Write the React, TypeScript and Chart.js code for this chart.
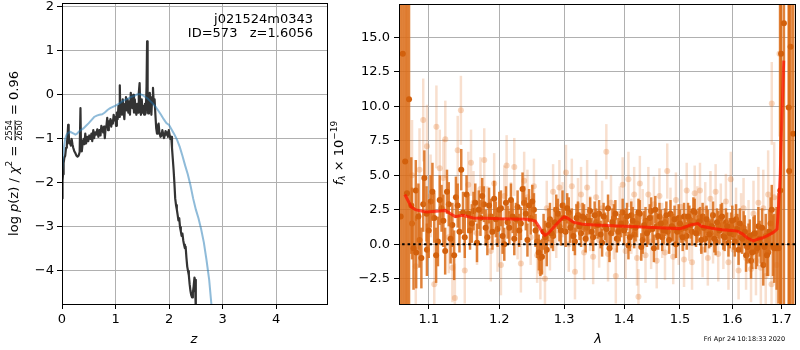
import React, { useEffect, useRef } from 'react';
import { Chart, registerables } from 'chart.js';
Chart.register(...registerables);

// ---------- Left panel data ----------
const zLogp = [0.000,0.010,0.020,0.030,0.045,0.060,0.075,0.090,0.105,0.115,0.125,0.135,0.150,0.165,0.180,0.195,0.210,0.230,0.250,0.270,0.290,0.310,0.330,0.345,0.355,0.370,0.390,0.405,0.420,0.435,0.450,0.470,0.490,0.510,0.530,0.550,0.565,0.585,0.600,0.620,0.640,0.660,0.680,0.700,0.720,0.735,0.750,0.770,0.785,0.800,0.815,0.830,0.845,0.860,0.875,0.890,0.905,0.920,0.935,0.950,0.965,0.980,0.995,1.010,1.025,1.040,1.055,1.065,1.080,1.090,1.105,1.120,1.135,1.150,1.165,1.180,1.195,1.210,1.225,1.240,1.255,1.270,1.285,1.300,1.315,1.330,1.345,1.360,1.375,1.390,1.405,1.420,1.435,1.450,1.462,1.475,1.490,1.505,1.520,1.535,1.550,1.565,1.580,1.590,1.600,1.610,1.625,1.640,1.655,1.670,1.685,1.700,1.715,1.730,1.745,1.760,1.775,1.790,1.805,1.820,1.840,1.860,1.875,1.890,1.905,1.920,1.935,1.950,1.965,1.980,1.995,2.010,2.025,2.040,2.055,2.070,2.085,2.100,2.115,2.130,2.145,2.160,2.175,2.190,2.205,2.220,2.235,2.250,2.265,2.280,2.295,2.310,2.325,2.340,2.355,2.370,2.385,2.400,2.415,2.430,2.445,2.460,2.475,2.485,2.500,2.520];
const logpVals = [-2.35,-1.95,-1.80,-1.55,-1.42,-1.38,-1.20,-1.15,-0.90,-0.68,-0.85,-1.10,-1.05,-1.15,-1.00,-1.12,-1.20,-1.28,-1.32,-1.38,-1.40,-1.38,-1.30,-0.30,-1.20,-1.28,-1.05,-1.00,-1.12,-0.88,-1.10,-0.95,-1.05,-0.92,-1.00,-0.88,-1.05,-0.80,-0.98,-0.85,-0.90,-0.78,-0.95,-0.80,-0.92,-0.70,-0.75,-0.85,-0.72,-0.98,-0.75,-0.70,-0.52,-0.80,-0.60,-0.68,-0.55,-0.72,-0.58,-0.65,-0.45,-0.58,-0.50,-0.70,-0.40,-0.55,-0.25,-0.50,0.22,-0.40,-0.18,-0.45,-0.10,-0.35,-0.55,-0.20,-0.05,-0.35,-0.10,-0.40,-0.15,-0.45,0.05,-0.20,-0.30,0.00,-0.40,-0.10,-0.35,-0.45,-0.20,-0.40,0.05,0.27,-0.30,-0.45,-0.10,-0.40,-0.25,-0.45,-0.20,-0.42,0.20,1.22,-0.10,-0.42,-0.20,0.05,-0.15,-0.45,-0.05,0.16,-0.20,-0.10,-0.45,-0.75,-0.88,-0.70,-0.65,-0.85,-0.95,-0.92,-0.80,-0.88,-0.98,-0.92,-0.82,-0.90,-0.85,-0.95,-0.80,-0.90,-1.00,-0.95,-1.20,-1.45,-1.70,-2.00,-2.35,-2.50,-2.60,-2.72,-2.85,-2.80,-3.00,-3.10,-3.20,-3.15,-3.30,-3.40,-3.48,-3.45,-3.70,-3.90,-4.00,-4.10,-4.30,-4.45,-4.55,-4.60,-4.50,-4.35,-4.15,-4.20,-4.90,-5.40];

const zPrior = [0.000,0.020,0.040,0.060,0.080,0.100,0.130,0.160,0.190,0.220,0.250,0.280,0.310,0.350,0.400,0.450,0.500,0.550,0.600,0.650,0.700,0.750,0.800,0.850,0.900,0.950,1.000,1.050,1.100,1.150,1.200,1.250,1.300,1.350,1.400,1.450,1.500,1.550,1.600,1.650,1.700,1.750,1.800,1.850,1.900,1.950,2.000,2.050,2.100,2.150,2.200,2.250,2.300,2.350,2.400,2.450,2.500,2.550,2.600,2.650,2.700,2.750,2.790,2.830];
const priorVals = [-1.75,-1.40,-1.15,-1.00,-0.92,-0.88,-0.85,-0.84,-0.86,-0.88,-0.90,-0.88,-0.84,-0.80,-0.76,-0.70,-0.64,-0.57,-0.50,-0.47,-0.45,-0.44,-0.40,-0.34,-0.30,-0.27,-0.24,-0.21,-0.17,-0.13,-0.10,-0.07,-0.04,-0.02,0.01,0.02,0.00,-0.04,-0.08,-0.14,-0.20,-0.27,-0.36,-0.45,-0.55,-0.64,-0.68,-0.79,-0.90,-1.02,-1.18,-1.38,-1.60,-1.80,-2.05,-2.35,-2.60,-2.80,-3.05,-3.35,-3.75,-4.20,-4.74,-5.30];

const zTicks = [0, 1, 2, 3, 4];
const logpTicks = [-4, -3, -2, -1, 0, 1, 2];

// ---------- Right panel data ----------
const darkLam = [1.0625,1.0653,1.0684,1.0708,1.0735,1.0765,1.0795,1.0830,1.0860,1.0900,1.0940,1.0970,1.1000,1.1050,1.1100,1.1150,1.1200,1.1250,1.1300,1.1350,1.1400,1.1450,1.1500,1.1550,1.1600,1.1650,1.1700,1.1750,1.1800,1.1850,1.1900,1.1950,1.2000,1.2050,1.2100,1.2150,1.2200,1.2250,1.2300,1.2350,1.2400,1.2450,1.2500,1.2550,1.2600,1.2650,1.2700,1.2750,1.2800,1.2850,1.2900,1.2950,1.3000,1.3050,1.3100,1.3150,1.3200,1.3250,1.3300,1.3350,1.3400,1.3450,1.3500,1.3550,1.3600,1.3650,1.3700,1.3750,1.3800,1.3850,1.3900,1.3950,1.4000,1.4050,1.4100,1.4150,1.4200,1.4250,1.4300,1.4350,1.4400,1.4450,1.4500,1.4550,1.4600,1.4650,1.4700,1.4750,1.4800,1.4850,1.4900,1.4950,1.5000,1.5050,1.5100,1.5150,1.5200,1.5250,1.5300,1.5350,1.5400,1.5450,1.5500,1.5550,1.5600,1.5650,1.5700,1.5750,1.5800,1.5850,1.5900,1.5950,1.6000,1.6050,1.6100,1.6150,1.6200,1.6250,1.6300,1.6350,1.6400,1.6450,1.6500,1.6550,1.6600,1.6650,1.6700,1.6750,1.6800,1.6850,1.6900,1.6940,1.6977,1.6995,1.7054,1.7155,1.7165,1.7195,1.7250];
const darkFlux = [2.0,13.8,6.0,3.7,10.5,2.8,-0.3,-0.6,2.0,-1.0,4.8,2.2,1.0,3.8,-0.8,3.2,1.7,3.8,0.4,-0.8,2.8,5.4,0.5,2.2,1.5,3.0,2.5,3.5,1.2,2.8,0.9,1.8,2.5,0.6,3.0,1.2,2.0,1.8,1.0,4.0,2.2,2.8,3.1,1.0,-0.6,-0.9,0.5,1.4,0.8,1.6,2.2,1.0,1.9,2.6,1.2,0.6,1.9,1.3,2.0,0.4,1.7,0.9,2.1,1.4,0.7,2.0,1.1,-0.3,1.6,2.2,0.9,1.5,1.0,2.0,0.5,1.7,1.2,2.3,-0.2,1.4,0.8,1.9,1.1,2.5,0.6,1.5,1.0,2.1,0.3,1.3,1.8,0.9,1.5,0.5,1.2,2.0,1.4,2.4,0.8,1.6,0.3,1.2,1.8,0.7,1.3,0.4,1.6,1.0,2.0,0.5,1.3,0.8,1.7,0.2,1.1,1.5,0.4,0.9,-0.2,0.6,-0.6,0.8,-0.3,0.4,1.2,-0.2,-0.8,0.9,2.5,-0.3,-0.3,-0.3,3.9,13.8,16.0,9.9,5.3,14.3,8.0];
const darkErr = [20,20,20,16,16,3.5,3.0,2.6,2.4,2.2,2.0,2.0,2.0,2.1,2.0,1.8,1.9,1.6,1.8,1.8,1.6,1.5,1.5,1.4,1.4,1.4,1.4,1.3,1.3,1.3,1.3,1.3,1.3,1.3,1.2,1.2,1.2,1.2,1.2,1.2,1.2,1.2,1.2,1.2,1.3,1.3,1.2,1.2,1.1,1.1,1.1,1.1,1.1,1.1,1.1,1.1,1.0,1.0,1.0,1.0,1.0,1.0,1.0,1.0,1.0,1.0,1.0,1.0,1.0,1.0,1.0,1.0,1.0,1.0,1.0,1.0,1.0,1.0,1.0,1.0,1.0,1.0,1.0,1.0,1.0,1.0,1.0,1.0,1.0,1.0,1.0,1.0,1.0,1.0,1.0,1.0,1.0,1.0,1.0,1.0,1.0,1.0,1.0,1.0,1.0,1.0,1.0,1.0,1.0,1.0,1.0,1.1,1.1,1.1,1.1,1.1,1.1,1.2,1.2,1.2,1.2,1.3,1.3,1.3,1.4,1.4,1.5,1.6,1.8,2.5,3.0,4.0,22,25,25,25,25,25,25];

const dark2Lam = [
  1.0775,1.0825,1.0875,1.0925,1.0975,1.1025,1.1075,1.1125,1.1175,1.1225,
  1.1275,1.1325,1.1375,1.1425,1.1475,1.1525,1.1575,1.1625,1.1675,1.1725,
  1.1775,1.1825,1.1875,1.1925,1.1975,1.2025,1.2075,1.2125,1.2175,1.2225,
  1.2275,1.2325,1.2375,1.2425,1.2475,1.2525,1.2575,1.2625,1.2675,1.2725,
  1.2775,1.2825,1.2875,1.2925,1.2975,1.3025,1.3075,1.3125,1.3175,1.3225,
  1.3275,1.3325,1.3375,1.3425,1.3475,1.3525,1.3575,1.3625,1.3675,1.3725,
  1.3775,1.3825,1.3875,1.3925,1.3975,1.4025,1.4075,1.4125,1.4175,1.4225,
  1.4275,1.4325,1.4375,1.4425,1.4475,1.4525,1.4575,1.4625,1.4675,1.4725,
  1.4775,1.4825,1.4875,1.4925,1.4975,1.5025,1.5075,1.5125,1.5175,1.5225,
  1.5275,1.5325,1.5375,1.5425,1.5475,1.5525,1.5575,1.5625,1.5675,1.5725,
  1.5775,1.5825,1.5875,1.5925,1.5975,1.6025,1.6075,1.6125,1.6175,1.6225,
  1.6275,1.6325,1.6375,1.6425,1.6475,1.6525,1.6575,1.6625,1.6675,1.6725,
  1.6775,1.6825];
const dark2Flux = [
  1.5,3.9,0.3,2.9,-0.4,3.1,1.9,0.2,2.6,-0.5,
  2.9,1.4,3.4,0.9,2.3,3.6,1.0,2.4,0.1,1.9,
  2.9,0.5,2.0,3.3,1.1,2.6,0.0,1.6,3.2,0.4,
  2.7,1.5,3.0,0.3,1.9,2.5,0.2,-1.0,0.9,-0.4,
  1.8,0.6,2.5,1.3,2.8,0.9,2.3,1.5,0.2,2.1,
  0.8,1.9,1.2,2.4,0.5,1.6,2.2,0.1,1.3,2.6,
  0.8,1.9,0.4,1.2,2.3,1.6,-0.1,2.1,0.7,1.5,
  2.2,0.3,1.7,1.0,2.4,-0.3,1.3,2.0,0.5,1.6,
  0.9,2.2,1.2,0.0,1.9,1.1,2.0,0.6,1.8,0.9,
  2.3,1.1,1.7,2.0,0.4,1.5,0.8,2.1,0.2,1.4,
  1.9,0.6,1.6,0.1,1.3,0.7,1.8,-0.4,0.5,1.2,
  -0.8,0.3,-1.2,0.7,-0.5,1.3,0.0,-1.5,0.6,-0.6,
  1.5,-0.1];
const dark2Err = [
  2.6,2.2,2.0,2.0,1.9,1.9,1.8,1.8,1.7,1.7,
  1.6,1.6,1.5,1.5,1.5,1.4,1.4,1.4,1.4,1.3,
  1.3,1.3,1.3,1.3,1.3,1.3,1.2,1.2,1.2,1.2,
  1.2,1.2,1.2,1.2,1.2,1.2,1.2,1.3,1.3,1.2,
  1.2,1.1,1.1,1.1,1.1,1.1,1.1,1.1,1.0,1.0,
  1.0,1.0,1.0,1.0,1.0,1.0,1.0,1.0,1.0,1.0,
  1.0,1.0,1.0,1.0,1.0,1.0,1.0,1.0,1.0,1.0,
  1.0,1.0,1.0,1.0,1.0,1.0,1.0,1.0,1.0,1.0,
  1.0,1.0,1.0,1.0,1.0,1.0,1.0,1.0,1.0,1.0,
  1.0,1.0,1.0,1.0,1.0,1.0,1.0,1.0,1.0,1.0,
  1.0,1.0,1.0,1.0,1.0,1.1,1.1,1.1,1.1,1.2,
  1.2,1.2,1.3,1.3,1.3,1.4,1.4,1.5,1.6,1.7,
  1.9,2.2];

const lightLam = [1.0775,1.0825,1.0875,1.0925,1.0975,1.1025,1.1075,1.1104,1.1150,1.1200,1.1227,1.1275,1.1325,1.1360,1.1400,1.1445,1.1500,1.1550,1.1589,1.1625,1.1675,1.1725,1.1780,1.1825,1.1875,1.1925,1.1975,1.2025,1.2075,1.2110,1.2175,1.2225,1.2275,1.2325,1.2375,1.2425,1.2475,1.2525,1.2575,1.2625,1.2697,1.2725,1.2775,1.2825,1.2875,1.2925,1.2975,1.3030,1.3075,1.3125,1.3176,1.3225,1.3275,1.3325,1.3375,1.3425,1.3475,1.3525,1.3575,1.3625,1.3696,1.3725,1.3775,1.3825,1.3857,1.3925,1.3975,1.4025,1.4075,1.4125,1.4175,1.4225,1.4250,1.4275,1.4325,1.4375,1.4425,1.4475,1.4525,1.4575,1.4625,1.4675,1.4725,1.4766,1.4825,1.4875,1.4925,1.4975,1.5025,1.5075,1.5125,1.5175,1.5225,1.5275,1.5325,1.5375,1.5425,1.5475,1.5525,1.5575,1.5625,1.5675,1.5725,1.5775,1.5825,1.5875,1.5925,1.5970,1.6025,1.6075,1.6125,1.6175,1.6225,1.6275,1.6325,1.6375,1.6425,1.6475,1.6525,1.6575,1.6625,1.6675,1.6725,1.6795,1.6800,1.6850,1.6900,1.6960];
const lightFlux = [5.0,-1.6,5.4,9.0,7.1,3.5,-2.9,8.5,5.5,4.8,7.6,0.5,-1.7,-3.9,6.8,9.7,-1.9,4.3,5.9,3.0,0.8,4.0,6.1,2.0,-0.5,4.4,0.2,-1.5,3.5,5.7,2.4,5.6,1.0,-1.4,4.6,3.4,0.5,4.2,-0.8,-2.0,-2.5,2.6,0.1,3.8,1.0,4.1,2.5,5.2,0.0,4.2,-2.0,2.8,3.6,-0.6,4.1,1.5,-0.9,3.4,0.3,2.6,6.7,-0.7,3.0,0.9,-2.3,2.2,4.3,-0.5,4.7,1.3,3.6,-1.0,-3.8,4.4,2.0,-0.8,3.6,0.2,2.9,-1.2,3.5,1.0,-0.6,5.3,2.1,-0.9,3.2,0.5,2.7,-1.1,3.9,0.8,-1.3,3.7,2.2,3.9,-0.4,2.5,-1.0,3.3,0.6,3.8,-0.7,2.4,0.2,3.1,-1.3,4.7,-0.4,2.0,-1.9,1.5,2.6,-1.0,0.9,-1.8,2.2,-1.2,3.0,-1.7,2.6,-2.3,3.6,-2.9,10.2,3.4,-1.5,13.8];
const lightErr = [4.0,3.5,3.0,3.0,3.0,3.0,3.0,3.0,2.8,2.8,2.8,2.6,2.5,2.5,2.5,2.5,2.4,2.4,2.4,2.3,2.3,2.3,2.3,2.2,2.2,2.2,2.2,2.2,2.2,2.2,2.1,2.1,2.1,2.1,2.1,2.0,2.0,2.0,2.0,2.0,2.0,2.0,2.0,2.0,2.0,2.0,2.0,2.0,2.0,2.0,2.0,2.0,2.0,2.0,2.0,2.0,2.0,2.0,2.0,2.0,2.0,2.0,2.0,2.0,2.0,2.0,2.0,2.0,2.0,2.0,2.0,2.0,2.0,2.0,2.0,2.0,2.0,2.0,2.0,2.0,2.0,2.0,2.0,2.0,2.0,2.0,2.0,2.0,2.0,2.0,2.0,2.0,2.0,2.0,2.0,2.0,2.0,2.0,2.0,2.0,2.0,2.0,2.0,2.0,2.0,2.0,2.0,2.0,2.1,2.1,2.1,2.2,2.2,2.3,2.3,2.4,2.4,2.5,2.6,2.7,2.8,3.0,3.2,3.5,3.0,4.0,5.0,6.0];

const modelLam = [1.068,1.0765,1.082,1.090,1.097,1.1144,1.1227,1.1300,1.1365,1.1466,1.1622,1.180,1.200,1.220,1.2428,1.2545,1.260,1.2650,1.2697,1.275,1.285,1.295,1.300,1.305,1.315,1.330,1.350,1.400,1.450,1.500,1.510,1.520,1.5334,1.540,1.560,1.580,1.600,1.610,1.620,1.630,1.6422,1.650,1.660,1.670,1.678,1.685,1.691,1.694,1.6977,1.700,1.705];
const modelFlux = [3.6,2.7,2.5,2.4,2.33,2.4,2.45,2.2,2.0,2.1,1.9,1.88,1.85,1.82,1.8,1.67,1.3,0.9,0.65,0.8,1.3,1.8,1.97,1.9,1.6,1.45,1.4,1.3,1.22,1.13,1.25,1.4,1.5,1.3,1.15,1.05,1.0,0.95,0.75,0.45,0.24,0.35,0.45,0.6,0.75,0.9,1.1,2.7,5.1,8.0,13.3];

const lamTicks = [1.1, 1.2, 1.3, 1.4, 1.5, 1.6, 1.7];
const fluxTicks = [-2.5, 0, 2.5, 5, 7.5, 10, 12.5, 15];

const FONT = 'DejaVu Sans';
const GRID = '#b0b0b0';
const fmtMinus = (s: string) => s.replace('-', '\u2212');

type Seg = { t: string; font: string; dy?: number; frac?: [string, string] };

function drawSegs(ctx: CanvasRenderingContext2D, segs: Seg[], cx: number, cy: number, rotate: boolean) {
  ctx.save();
  ctx.translate(cx, cy);
  if (rotate) ctx.rotate(-Math.PI / 2);
  ctx.textBaseline = 'middle';
  ctx.fillStyle = '#000';
  const widths = segs.map((s) => {
    ctx.font = s.font;
    if (s.frac) return Math.max(ctx.measureText(s.frac[0]).width, ctx.measureText(s.frac[1]).width) + 2;
    return ctx.measureText(s.t).width;
  });
  const total = widths.reduce((a, b) => a + b, 0);
  let x = -total / 2;
  segs.forEach((s, i) => {
    ctx.font = s.font;
    if (s.frac) {
      const w = widths[i];
      ctx.textAlign = 'center';
      ctx.fillText(s.frac[0], x + w / 2, -5);
      ctx.fillText(s.frac[1], x + w / 2, 5);
      ctx.fillRect(x + 1, -0.4, w - 2, 0.8);
    } else {
      ctx.textAlign = 'left';
      ctx.fillText(s.t, x, s.dy ?? 0);
    }
    x += widths[i];
  });
  ctx.restore();
}

const framePlugin = {
  id: 'frame',
  afterDatasetsDraw(chart: any) {
    const { ctx, chartArea: a } = chart;
    ctx.save();
    ctx.strokeStyle = '#000';
    ctx.lineWidth = 1;
    ctx.strokeRect(Math.round(a.left) + 0.5, Math.round(a.top) + 0.5, Math.round(a.right) - Math.round(a.left) - 1, Math.round(a.bottom) - Math.round(a.top));
    ctx.restore();
  },
};

const errorBarPlugin = {
  id: 'errbars',
  beforeDatasetDraw(chart: any, args: any) {
    const ds = chart.data.datasets[args.index];
    if (!ds.errors) return;
    const { ctx, chartArea: a, scales } = chart;
    ctx.save();
    ctx.beginPath();
    ctx.rect(a.left, a.top, a.right - a.left, a.bottom - a.top);
    ctx.clip();
    ctx.strokeStyle = ds.errColor;
    ctx.lineWidth = ds.errWidth;
    ds.data.forEach((p: any, i: number) => {
      const x = scales.x.getPixelForValue(p.x);
      const y1 = scales.y.getPixelForValue(p.y - ds.errors[i]);
      const y2 = scales.y.getPixelForValue(p.y + ds.errors[i]);
      ctx.beginPath();
      ctx.moveTo(x, y1);
      ctx.lineTo(x, y2);
      ctx.stroke();
    });
    ctx.restore();
  },
};

const tickFont = { family: FONT, size: 13 };
const yFit = (w: number) => (s: any) => { s.width = w; s.paddingTop = 0; s.paddingBottom = 0; };
const xFit = (h: number) => (s: any) => { s.height = h; s.paddingLeft = 0; s.paddingRight = 0; };

export default function App() {
  const leftRef = useRef<HTMLCanvasElement>(null);
  const rightRef = useRef<HTMLCanvasElement>(null);

  useEffect(() => {
    const leftText = {
      id: 'leftText',
      afterDraw(chart: any) {
        const ctx = chart.ctx as CanvasRenderingContext2D;
        ctx.save();
        ctx.fillStyle = '#000';
        ctx.font = `13px ${FONT}`;
        ctx.textAlign = 'right';
        ctx.textBaseline = 'middle';
        ctx.fillText('j021524m0343', 313, 20);
        ctx.fillText('ID=573   z=1.6056', 313, 34);
        ctx.textAlign = 'center';
        ctx.font = `italic 13px ${FONT}`;
        ctx.fillText('z', 194, 340);
        ctx.restore();
        const n = `13px ${FONT}`;
        const it = `italic 13px ${FONT}`;
        const sm = `9px ${FONT}`;
        drawSegs(ctx, [
          { t: 'log ', font: n },
          { t: 'p', font: it },
          { t: '(z) / ', font: n },
          { t: '\u03c7', font: it },
          { t: '2', font: sm, dy: -5 },
          { t: ' = ', font: n },
          { t: '', font: `8px ${FONT}`, frac: ['2554', '2650'] },
          { t: ' = 0.96', font: n },
        ], 15, 153.5, true);
      },
    };

    const left = new Chart(leftRef.current!, {
      type: 'scatter',
      data: {
        datasets: [
          {
            data: zPrior.map((z, i) => ({ x: z, y: priorVals[i] })),
            showLine: true,
            borderColor: 'rgba(31,119,180,0.5)',
            borderWidth: 2,
            pointRadius: 0,
            order: 0,
          },
          {
            data: zLogp.map((z, i) => ({ x: z, y: logpVals[i] })),
            showLine: true,
            borderColor: '#333333',
            borderWidth: 2.2,
            pointRadius: 0,
            borderJoinStyle: 'round',
            order: 1,
          },
        ] as any,
      },
      options: {
        responsive: false,
        animation: false,
        layout: { padding: { left: 0, right: 7, top: 3, bottom: 0 } },
        plugins: { legend: { display: false }, tooltip: { enabled: false } },
        scales: {
          x: {
            type: 'linear',
            min: 0,
            max: 4.97,
            afterBuildTicks: (ax: any) => { ax.ticks = zTicks.map((v) => ({ value: v })); },
            afterFit: xFit(46),
            ticks: { font: tickFont, color: '#000', padding: 3, maxRotation: 0, callback: (v: any) => fmtMinus(String(v)) },
            grid: { color: GRID, lineWidth: 1, tickColor: '#000', tickLength: 5 },
            border: { display: false },
          },
          y: {
            type: 'linear',
            min: -4.75,
            max: 2.09,
            afterBuildTicks: (ax: any) => { ax.ticks = logpTicks.map((v) => ({ value: v })); },
            afterFit: yFit(62),
            ticks: { font: tickFont, color: '#000', padding: 3, callback: (v: any) => fmtMinus(String(v)) },
            grid: { color: GRID, lineWidth: 1, tickColor: '#000', tickLength: 5 },
            border: { display: false },
          },
        },
      } as any,
      plugins: [framePlugin, leftText],
    });

    const rightText = {
      id: 'rightText',
      afterDraw(chart: any) {
        const ctx = chart.ctx as CanvasRenderingContext2D;
        ctx.save();
        ctx.fillStyle = '#000';
        ctx.textAlign = 'center';
        ctx.textBaseline = 'middle';
        ctx.font = `italic 13px ${FONT}`;
        ctx.fillText('\u03bb', 268, 340);
        ctx.font = `6.5px ${FONT}`;
        ctx.fillText('Fri Apr 24 10:18:33 2020', 414.5, 339);
        ctx.restore();
        const n = `13px ${FONT}`;
        drawSegs(ctx, [
          { t: 'f', font: `italic 13px ${FONT}` },
          { t: '\u03bb', font: `italic 9px ${FONT}`, dy: 3 },
          { t: ' \u00d7 10', font: n },
          { t: '\u221219', font: `9px ${FONT}`, dy: -5 },
        ], 10, 153, true);
      },
    };

    const right = new Chart(rightRef.current!, {
      type: 'scatter',
      data: {
        datasets: [
          {
            data: modelLam.map((l, i) => ({ x: l, y: modelFlux[i] })),
            showLine: true,
            borderColor: 'rgba(255,20,0,0.72)',
            borderWidth: 3,
            pointRadius: 0,
            order: 0,
          },
          {
            data: [{ x: 1.05, y: 0 }, { x: 1.74, y: 0 }],
            showLine: true,
            borderColor: '#000',
            borderWidth: 2,
            borderDash: [2.5, 3],
            pointRadius: 0,
            order: 1,
          },
          {
            data: darkLam.map((l, i) => ({ x: l, y: darkFlux[i] })),
            errors: darkErr,
            errColor: 'rgba(218,108,24,0.85)',
            errWidth: 2.5,
            pointRadius: 3,
            pointBackgroundColor: 'rgb(210,96,12)',
            pointBorderWidth: 0,
            order: 2,
          },
          {
            data: dark2Lam.map((l, i) => ({ x: l, y: dark2Flux[i] })),
            errors: dark2Err,
            errColor: 'rgba(218,108,24,0.85)',
            errWidth: 2.5,
            pointRadius: 3,
            pointBackgroundColor: 'rgb(210,96,12)',
            pointBorderWidth: 0,
            order: 2,
          },
          {
            data: lightLam.map((l, i) => ({ x: l, y: lightFlux[i] })),
            errors: lightErr,
            errColor: 'rgba(225,110,30,0.22)',
            errWidth: 2.5,
            pointRadius: 3,
            pointBackgroundColor: 'rgba(225,110,30,0.28)',
            pointBorderWidth: 0,
            order: 3,
          },
        ] as any,
      },
      options: {
        responsive: false,
        animation: false,
        layout: { padding: { left: 0, right: 1, top: 3, bottom: 0 } },
        plugins: { legend: { display: false }, tooltip: { enabled: false } },
        scales: {
          x: {
            type: 'logarithmic',
            min: 1.0603,
            max: 1.731,
            afterBuildTicks: (ax: any) => { ax.ticks = lamTicks.map((v) => ({ value: v })); },
            afterFit: xFit(46),
            ticks: { font: tickFont, color: '#000', padding: 3, maxRotation: 0, autoSkip: false, callback: (v: any) => Number(v).toFixed(1) },
            grid: { color: GRID, lineWidth: 1, tickColor: '#000', tickLength: 5 },
            border: { display: false },
          },
          y: {
            type: 'linear',
            min: -4.33,
            max: 17.4,
            afterBuildTicks: (ax: any) => { ax.ticks = fluxTicks.map((v) => ({ value: v })); },
            afterFit: yFit(69),
            ticks: { font: tickFont, color: '#000', padding: 4, callback: (v: any) => fmtMinus(Number(v).toFixed(1)) },
            grid: { color: GRID, lineWidth: 1, tickColor: '#000', tickLength: 5 },
            border: { display: false },
          },
        },
      } as any,
      plugins: [framePlugin, errorBarPlugin, rightText],
    });

    return () => {
      left.destroy();
      right.destroy();
    };
  }, []);

  return (
    <div style={{ position: 'fixed', left: 0, top: 0, width: 800, height: 350, background: '#fff' }}>
      <canvas ref={leftRef} width={335} height={350} style={{ position: 'absolute', left: 0, top: 0, width: 335, height: 350 }} />
      <canvas ref={rightRef} width={470} height={350} style={{ position: 'absolute', left: 330, top: 0, width: 470, height: 350 }} />
    </div>
  );
}
